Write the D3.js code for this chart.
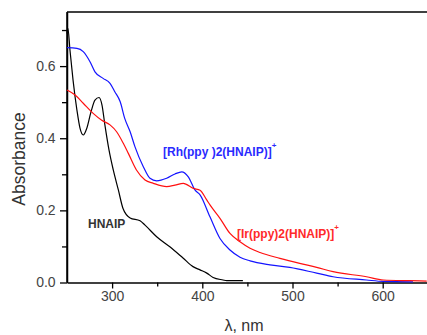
<!DOCTYPE html>
<html>
<head>
<meta charset="utf-8">
<script src="https://cdn.jsdelivr.net/npm/d3@7"></script>
<style>
  html, body { margin: 0; padding: 0; background: #fff; }
  svg { display: block; font-family: "Liberation Sans", Arial, sans-serif; }
</style>
</head>
<body>
<svg id="chart" width="427" height="335"></svg>
<script>
// Wavelength (nm) / absorbance readings
const hnaipWl  = [250, 251, 253.3, 256.7, 261, 264.4, 268, 272, 276.6, 281, 285.5, 288.8, 292, 296.6, 301.3, 307, 312, 320, 331, 336.5, 349.4, 364, 378.6, 389.7, 397.5, 405, 412, 423, 427, 445];
const hnaipAbs = [0.69, 0.705, 0.644, 0.561, 0.478, 0.428, 0.409, 0.428, 0.473, 0.506, 0.513, 0.492, 0.437, 0.367, 0.312, 0.256, 0.206, 0.179, 0.171, 0.159, 0.127, 0.099, 0.068, 0.044, 0.035, 0.026, 0.014, 0.007, 0.005, 0.005];

const rhWl  = [250, 261, 268, 275.5, 281, 290, 297.7, 303, 309, 314, 320, 325.4, 334.6, 342, 349.4, 360.5, 369.7, 377.2, 384.5, 392, 397.5, 408.5, 419.6, 430.7, 441.8, 452.9, 475, 497, 526.8, 545, 582, 600.7, 633.6];
const rhAbs = [0.651, 0.649, 0.640, 0.612, 0.584, 0.566, 0.552, 0.529, 0.501, 0.455, 0.418, 0.376, 0.321, 0.289, 0.282, 0.289, 0.301, 0.307, 0.293, 0.256, 0.243, 0.182, 0.122, 0.090, 0.070, 0.060, 0.049, 0.042, 0.026, 0.016, 0.007, 0.003, 0.002];

const irWl  = [250, 259, 268, 279, 288.5, 297.7, 305, 312.4, 318, 327, 336.5, 345.7, 360.5, 369.7, 379, 390, 397.5, 404.9, 408.5, 419.6, 430.7, 441.8, 452.9, 464, 486, 508, 526.8, 545, 582, 600.7, 630, 648.8];
const irAbs = [0.534, 0.520, 0.497, 0.469, 0.450, 0.437, 0.418, 0.386, 0.358, 0.312, 0.284, 0.275, 0.266, 0.270, 0.275, 0.261, 0.256, 0.229, 0.215, 0.178, 0.136, 0.113, 0.095, 0.083, 0.067, 0.053, 0.042, 0.030, 0.016, 0.007, 0.005, 0.004];

const xMajorTicks = [300, 400, 500, 600];
const xMinorTicks = [350, 450, 550];
const yMajorTicks = [0.0, 0.2, 0.4, 0.6];
const yMinorTicks = [0.1, 0.3, 0.5, 0.7];

const xDomain = [250, 650];
const yDomain = [0, 0.75];

const svg = d3.select("#chart");
const mLeft = 67, mRight = 427.8, mTop = 12, mBottom = 282.5;

const x = d3.scaleLinear().domain(xDomain).range([mLeft, mRight]);
const y = d3.scaleLinear().domain(yDomain).range([mBottom, mTop]);

const tickColor = "#444";

// X axis
const xAxis = svg.append("g").attr("transform", `translate(0,${mBottom})`)
  .call(d3.axisBottom(x).tickValues(xMajorTicks).tickFormat(d3.format("d")).tickSize(6).tickSizeOuter(0));
svg.append("g").attr("transform", `translate(0,${mBottom})`)
  .call(d3.axisBottom(x).tickValues(xMinorTicks).tickFormat("").tickSize(4).tickSizeOuter(0))
  .select(".domain").remove();

// Y axis
const yAxis = svg.append("g").attr("transform", `translate(${mLeft},0)`)
  .call(d3.axisLeft(y).tickValues(yMajorTicks).tickFormat(d3.format(".1f")).tickSize(7).tickSizeOuter(0));
svg.append("g").attr("transform", `translate(${mLeft},0)`)
  .call(d3.axisLeft(y).tickValues(yMinorTicks).tickFormat("").tickSize(5).tickSizeOuter(0))
  .select(".domain").remove();

svg.selectAll(".domain").attr("stroke", "#000").attr("stroke-width", 1.5);
svg.selectAll(".tick line").attr("stroke", "#000").attr("stroke-width", 1.3);
xAxis.selectAll(".tick text").attr("font-size", 14).attr("fill", tickColor)
  .attr("font-family", "Liberation Sans, Arial, sans-serif");
yAxis.selectAll(".tick text").attr("font-size", 14).attr("fill", tickColor)
  .attr("font-family", "Liberation Sans, Arial, sans-serif").attr("dx", "-0.1em");

// Frame lines
svg.append("line").attr("x1", mLeft).attr("x2", mRight).attr("y1", mTop).attr("y2", mTop)
  .attr("stroke", "#000").attr("stroke-width", 1.5);
svg.append("line").attr("x1", mLeft).attr("x2", mLeft).attr("y1", mTop).attr("y2", mBottom)
  .attr("stroke", "#000").attr("stroke-width", 1.5);

// Lines
const series = [
  { wl: hnaipWl, abs: hnaipAbs, color: "#000000" },
  { wl: rhWl, abs: rhAbs, color: "#1414ff" },
  { wl: irWl, abs: irAbs, color: "#ff1010" }
];
const line = d3.line().x(d => x(d[0])).y(d => y(d[1])).curve(d3.curveMonotoneX);
series.forEach(s => {
  const pts = s.wl.map((w, i) => [w, s.abs[i]]);
  svg.append("path").datum(pts).attr("d", line)
    .attr("fill", "none").attr("stroke", s.color).attr("stroke-width", 1.2);
});

// Annotations
svg.append("text").attr("x", 88).attr("y", 228).attr("font-size", 12).attr("font-weight", "bold")
  .attr("fill", "#333").text("HNAIP");

const rh = svg.append("text").attr("x", 163).attr("y", 156).attr("font-size", 12).attr("font-weight", "bold")
  .attr("fill", "#2a2aff");
rh.append("tspan").text("[Rh(ppy )2(HNAIP)]");
rh.append("tspan").attr("dy", -8).attr("font-size", 8).text("+");

const ir = svg.append("text").attr("x", 237).attr("y", 238).attr("font-size", 12).attr("font-weight", "bold")
  .attr("fill", "#ff2a2a");
ir.append("tspan").text("[Ir(ppy)2(HNAIP)]");
ir.append("tspan").attr("dy", -8).attr("font-size", 8).text("+");

// Axis titles
svg.append("text").attr("transform", "translate(25,159) rotate(-90)").attr("text-anchor", "middle")
  .attr("font-size", 17.5).attr("fill", "#333").text("Absorbance");
svg.append("text").attr("x", 244).attr("y", 331).attr("text-anchor", "middle")
  .attr("font-size", 16).attr("fill", "#333").text("λ, nm");
</script>
</body>
</html>
